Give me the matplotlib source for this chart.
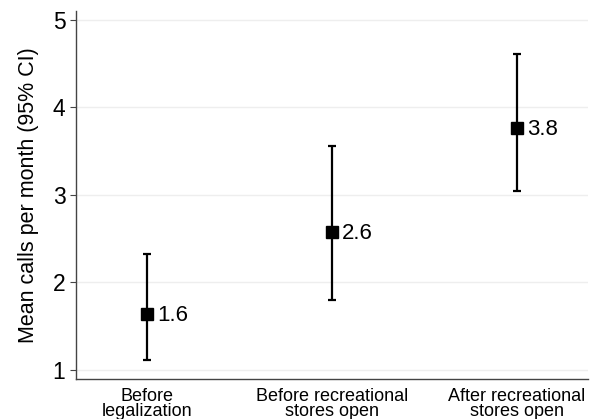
import matplotlib.pyplot as plt

plt.rcParams['font.family'] = ['Liberation Sans', 'DejaVu Sans']

categories = ['Before\nlegalization', 'Before recreational\nstores open',
              'After recreational\nstores open']
means = [1.63, 2.57, 3.76]
ci_low = [1.11, 1.80, 3.04]
ci_high = [2.32, 3.56, 4.61]
labels = ['1.6', '2.6', '3.8']

x = [1, 2, 3]
err = [[m - lo for m, lo in zip(means, ci_low)],
       [hi - m for m, hi in zip(means, ci_high)]]

fig = plt.figure(figsize=(5.92, 4.19), dpi=100)
ax = fig.add_axes([0.128, 0.095, 0.865, 0.879])

ax.errorbar(x, means, yerr=err, fmt='s', color='black', ecolor='black',
            markersize=8, elinewidth=1.6, capsize=3, capthick=1.6, zorder=3)
for xi, m, lab in zip(x, means, labels):
    ax.annotate(lab, (xi, m), xytext=(7.5, -1), textcoords='offset points',
                ha='left', va='center', fontsize=16)

ax.set_xlim(0.615, 3.385)
ax.set_ylim(0.89, 5.1)
ax.set_yticks([1, 2, 3, 4, 5])
ax.set_xticks(x)
ax.set_xticklabels(categories, fontsize=13, linespacing=0.9)
ax.tick_params(axis='x', length=0, pad=6)
ax.tick_params(axis='y', labelsize=16.5, length=4, width=0.8, color='#444444')
ax.set_ylabel('Mean calls per month (95% CI)', fontsize=15.5, labelpad=10)
ax.grid(axis='y', color='#eeeeee', linewidth=1)
ax.set_axisbelow(True)
for side in ['top', 'right']:
    ax.spines[side].set_visible(False)
for side in ['left', 'bottom']:
    ax.spines[side].set_color('#444444')
    ax.spines[side].set_linewidth(1)

fig.savefig('out.png', dpi=100)
